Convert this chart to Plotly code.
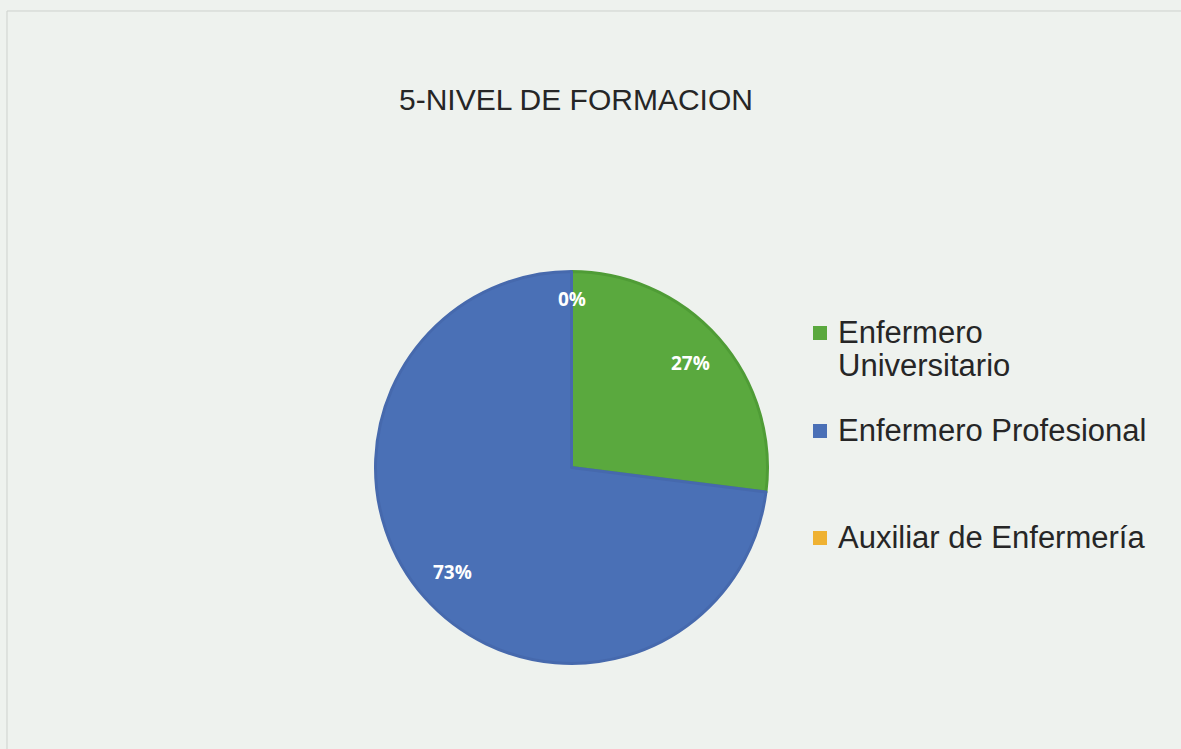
import math
import plotly.graph_objects as go

# ---- data ----
labels = ["Enfermero Universitario", "Enfermero Profesional", "Auxiliar de Enfermería"]
legend_lines = [["Enfermero", "Universitario"], ["Enfermero Profesional"], ["Auxiliar de Enfermería"]]
values = [27, 73, 0]
colors = ["#5aa93e", "#4a70b6", "#efb232"]
edge_colors = ["#4f9c36", "#4669ad", "#efb232"]
edge_widths = [3, 3, 0]
title = "5-NIVEL DE FORMACION"

W, H = 1181, 749
cx, cy, R = 571.5, 467.5, 196  # pie centre / radius in pixels

fig = go.Figure()
fig.add_trace(go.Pie(
    labels=labels, values=values, sort=False, direction="clockwise", rotation=0,
    marker=dict(colors=colors, line=dict(color=edge_colors, width=edge_widths)),
    textinfo="none", hoverinfo="label+percent", showlegend=False,
    domain=dict(x=[(cx - R) / W, (cx + R) / W], y=[1 - (cy + R) / H, 1 - (cy - R) / H]),
))

annotations = []
total = sum(values)
cum = 0
for lab, v in zip(labels, values):
    mid = (cum + v / 2) / total * 2 * math.pi
    cum += v
    rr = 0.86 * R if v == 0 else 0.81 * R
    px = cx + rr * math.sin(mid)
    py = cy - rr * math.cos(mid)
    annotations.append(dict(
        x=px / W, y=1 - py / H, xref="paper", yref="paper", showarrow=False,
        text=f"{round(100 * v / total)}%",
        font=dict(family="Open Sans", size=19, color="white", weight="bold"),
        xanchor="center", yanchor="middle"))

# legend (drawn manually to reproduce the uneven spacing of the original)
legend_cap_centers = [[332, 365], [430], [537]]
shapes = []
for lines, col, ys in zip(legend_lines, colors, legend_cap_centers):
    sy = ys[0] + 1
    shapes.append(dict(type="rect", xref="paper", yref="paper",
                       x0=813 / W, x1=827 / W, y0=1 - (sy + 7) / H, y1=1 - (sy - 7) / H,
                       fillcolor=col, line=dict(width=0)))
    for txt, ly in zip(lines, ys):
        annotations.append(dict(
            x=836 / W, y=1 - ly / H, xref="paper", yref="paper", showarrow=False,
            text=txt, align="left", xanchor="left", yanchor="middle",
            font=dict(family="Liberation Sans, Arial", size=31, color="#262626")))

# title
annotations.append(dict(x=576 / W, y=1 - 99 / H, xref="paper", yref="paper", showarrow=False,
                        text=title, xanchor="center", yanchor="middle",
                        font=dict(family="Liberation Sans, Arial", size=30, color="#262626")))

# faint frame lines of the scanned chart
shapes.append(dict(type="line", xref="paper", yref="paper", x0=7 / W, x1=1, y0=1 - 11 / H, y1=1 - 11 / H,
                   line=dict(color="#cdd1cd", width=1)))
shapes.append(dict(type="line", xref="paper", yref="paper", x0=7 / W, x1=7 / W, y0=0, y1=1 - 11 / H,
                   line=dict(color="#cdd1cd", width=1)))

fig.update_layout(
    width=W, height=H, margin=dict(l=0, r=0, t=0, b=0),
    paper_bgcolor="#eef2ee", plot_bgcolor="#eef2ee",
    annotations=annotations, shapes=shapes, showlegend=False,
)

fig.write_html("out.html", config={"displayModeBar": False},
               post_script="document.body.style.margin='0';document.body.style.overflow='hidden';")
